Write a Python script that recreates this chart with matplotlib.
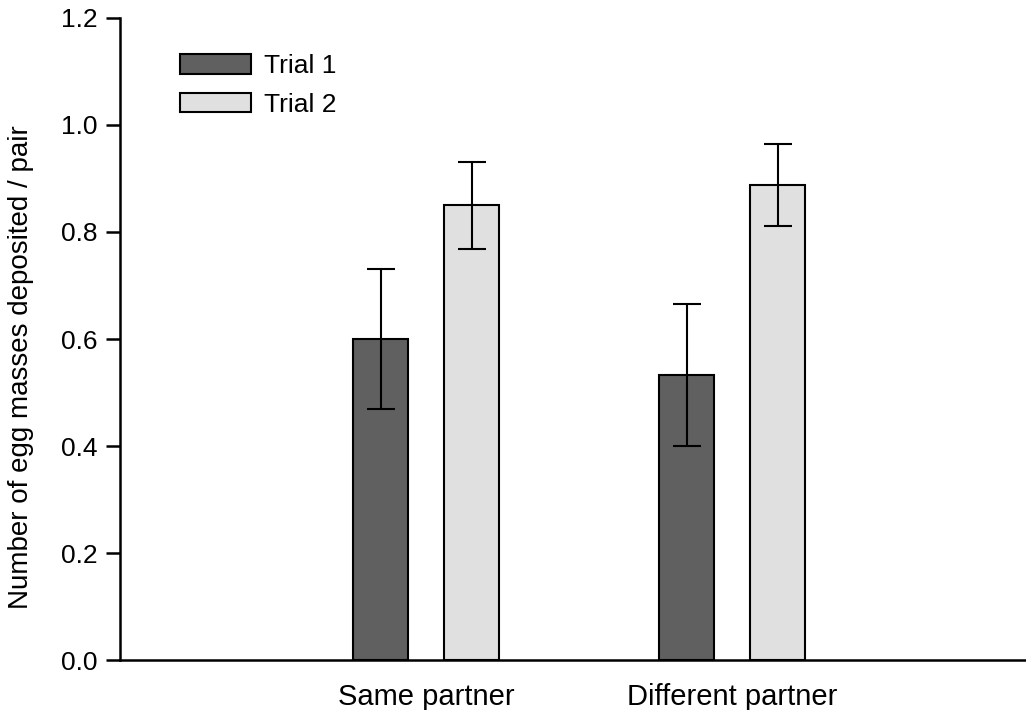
import numpy as np
import matplotlib.pyplot as plt

plt.rcParams['font.family'] = ['Liberation Sans', 'DejaVu Sans']

groups = ['Same partner', 'Different partner']
trial1 = [0.60, 0.533]
trial1_err = [0.13, 0.133]
trial2 = [0.85, 0.888]
trial2_err = [0.081, 0.077]

fig = plt.figure(figsize=(10.26, 7.10), dpi=100)
ax = fig.add_axes([0.117, 0.07, 0.883, 0.905])

x = np.arange(len(groups))
w = 0.18
off = 0.149
ax.bar(x - off, trial1, w, color='#606060', edgecolor='black', linewidth=1.5,
       label='Trial 1')
ax.bar(x + off, trial2, w, color='#e0e0e0', edgecolor='black', linewidth=1.5,
       label='Trial 2')
ax.errorbar(x - off, trial1, yerr=trial1_err, fmt='none', ecolor='black',
            elinewidth=1.5, capsize=10, capthick=1.5)
ax.errorbar(x + off, trial2, yerr=trial2_err, fmt='none', ecolor='black',
            elinewidth=1.5, capsize=10, capthick=1.5)

ax.set_xlim(-1.0, 1.96)
ax.set_ylim(0, 1.2)
ax.set_yticks(np.arange(0, 1.21, 0.2))
ax.set_yticklabels([f'{v:.1f}' for v in np.arange(0, 1.21, 0.2)])
ax.set_xticks(x)
ax.set_xticklabels(groups)
ax.tick_params(axis='x', length=0, pad=16, labelsize=21)
ax.tick_params(axis='y', length=10, width=1.8, direction='out', labelsize=19, pad=6)
for s in ['top', 'right']:
    ax.spines[s].set_visible(False)
for s in ['left', 'bottom']:
    ax.spines[s].set_linewidth(1.8)
ax.set_ylabel('Number of egg masses deposited / pair', fontsize=20, labelpad=16)
ax.yaxis.set_label_coords(-0.095, 0.456)

ax.legend(loc='upper left', bbox_to_anchor=(0.04, 0.98), frameon=False,
          fontsize=19, handlelength=2.7, handleheight=0.75, labelspacing=0.55,
          handletextpad=0.5)

fig.savefig('out.png', dpi=100)
